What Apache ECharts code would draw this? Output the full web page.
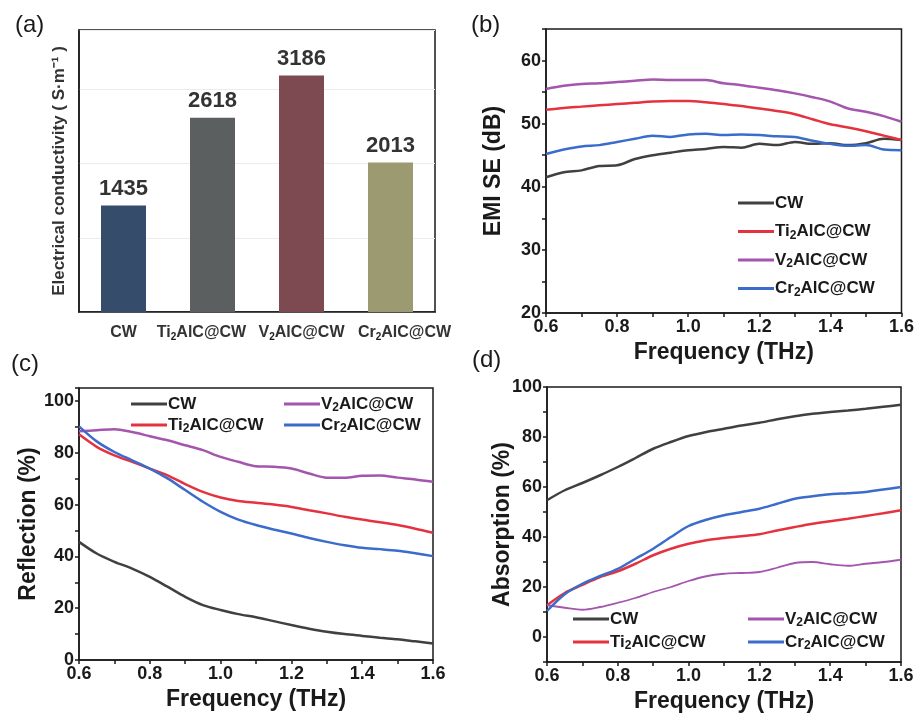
<!DOCTYPE html>
<html>
<head>
<meta charset="utf-8">
<script src="https://cdn.jsdelivr.net/npm/echarts@6/dist/echarts.min.js"></script>
<style>
  html, body { margin: 0; padding: 0; background: #fff; }
  #main { width: 917px; height: 716px; }
</style>
</head>
<body>
<div id="main"></div>
<script>
var chart = echarts.init(document.getElementById('main'));

var samples = ['CW', 'Ti₂AlC@CW', 'V₂AlC@CW', 'Cr₂AlC@CW'];
var conductivity = [1435, 2618, 3186, 2013];
var bar_colors = ['#354c6b', '#5b5f60', '#7d4a52', '#9c9a70'];
var line_colors = ['#404040', '#e5323f', '#a455ad', '#3b6ccb'];

var freq = [0.6, 0.65, 0.7, 0.75, 0.8, 0.85, 0.9, 0.95, 1.0, 1.05, 1.1,
            1.15, 1.2, 1.25, 1.3, 1.35, 1.4, 1.45, 1.5, 1.55, 1.6];

// (b) EMI SE (dB)
var emi_cw = [41.5, 42.3, 42.6, 43.3, 43.4, 44.4, 45.0, 45.4, 45.8, 46.0, 46.3, 46.2, 46.8, 46.6, 47.1, 46.8, 46.9, 46.6, 46.9, 47.6, 47.4];
var emi_ti = [52.2, 52.5, 52.7, 52.9, 53.1, 53.3, 53.5, 53.6, 53.6, 53.4, 53.1, 52.8, 52.4, 52.0, 51.5, 50.7, 49.9, 49.4, 48.8, 48.1, 47.4];
var emi_v = [55.5, 56.0, 56.3, 56.4, 56.6, 56.8, 57.0, 56.9, 56.9, 56.9, 56.4, 56.1, 55.7, 55.3, 54.8, 54.2, 53.5, 52.4, 51.9, 51.2, 50.3];
var emi_cr = [45.2, 45.9, 46.4, 46.6, 47.1, 47.6, 48.1, 47.9, 48.3, 48.4, 48.2, 48.3, 48.2, 48.0, 47.9, 47.3, 46.8, 46.5, 46.6, 45.9, 45.8];

// (c) Reflection (%)
var ref_cw = [45.6, 41.1, 37.9, 35.3, 32.1, 28.3, 24.4, 21.2, 19.3, 17.7, 16.5, 15.0, 13.5, 12.1, 10.9, 10.0, 9.3, 8.6, 8.0, 7.2, 6.4];
var ref_ti = [87.1, 82.3, 79.0, 76.5, 73.9, 71.3, 67.9, 64.9, 62.7, 61.4, 60.7, 60.0, 59.1, 57.8, 56.6, 55.3, 54.2, 53.2, 52.1, 50.7, 49.1];
var ref_v = [88.3, 88.7, 89.1, 88.0, 86.4, 84.8, 82.9, 81.0, 78.4, 76.5, 74.8, 74.6, 73.9, 72.0, 70.4, 70.4, 71.1, 71.2, 70.4, 69.7, 68.8];
var ref_cr = [90.2, 84.4, 80.3, 77.1, 73.9, 70.1, 65.6, 61.1, 57.2, 54.2, 52.1, 50.4, 48.8, 47.1, 45.6, 44.3, 43.3, 42.8, 42.2, 41.2, 40.1];

// (d) Absorption (%)
var abs_cw = [54.7, 58.7, 61.6, 64.7, 68.0, 71.6, 75.3, 78.0, 80.4, 82.0, 83.3, 84.6, 85.7, 87.1, 88.3, 89.3, 90.0, 90.6, 91.3, 92.1, 92.9];
var abs_ti = [12.7, 17.6, 20.9, 24.0, 26.3, 29.3, 32.7, 35.3, 37.3, 38.7, 39.6, 40.3, 41.1, 42.6, 44.0, 45.3, 46.3, 47.3, 48.4, 49.5, 50.7];
var abs_v = [12.7, 11.7, 10.9, 12.0, 13.7, 15.6, 18.0, 20.0, 22.4, 24.3, 25.3, 25.6, 26.0, 27.7, 29.6, 30.0, 29.1, 28.5, 29.3, 30.0, 30.9];
var abs_cr = [10.4, 17.1, 21.3, 24.4, 27.3, 31.3, 35.3, 40.0, 44.4, 46.9, 48.7, 50.0, 51.3, 53.3, 55.3, 56.3, 57.1, 57.5, 58.0, 59.0, 60.0];

var font = 'Liberation Sans, Arial, sans-serif';
var ink = '#1a1a1a';

// "Ti₂AlC@CW" -> rich text with a lowered subscript
function subText(name) {
    return name.replace('₂', '{s|2}');
}
function subRich(size) {
    return {
        s: { fontFamily: font, fontWeight: 'bold', fontSize: size, lineHeight: size,
             padding: [8, 0, 0, 0], verticalAlign: 'bottom', color: ink }
    };
}

function pairs(ys) {
    return freq.map(function (f, i) { return [f, ys[i]]; });
}

function freqAxis(idx) {
    return {
        type: 'value', gridIndex: idx, min: 0.6, max: 1.6, interval: 0.1,
        name: 'Frequency (THz)', nameLocation: 'middle', nameGap: 28, nameMoveOverlap: false,
        nameTextStyle: { fontFamily: font, fontWeight: 'bold', fontSize: 23, color: ink },
        axisLine: { show: true, onZero: false, lineStyle: { color: ink, width: 1.5 } },
        axisTick: { show: true, length: 4, lineStyle: { color: ink, width: 1.5 } },
        axisLabel: {
            fontFamily: font, fontWeight: 'bold', fontSize: 18, color: ink, margin: 5,
            formatter: function (v) { return Math.round(v * 10) % 2 === 0 ? v.toFixed(1) : ''; }
        },
        splitLine: { show: false }
    };
}

function valAxis(idx, name, min, max, step, gap) {
    return {
        type: 'value', gridIndex: idx, min: min, max: max, interval: step / 2,
        name: name, nameLocation: 'middle', nameGap: gap, nameMoveOverlap: false,
        nameTextStyle: { fontFamily: font, fontWeight: 'bold', fontSize: 23, color: ink },
        axisLine: { show: true, onZero: false, lineStyle: { color: ink, width: 1.5 } },
        axisTick: { show: true, length: 4, lineStyle: { color: ink, width: 1.5 } },
        axisLabel: {
            fontFamily: font, fontWeight: 'bold', fontSize: 18, color: ink, margin: 5,
            formatter: function (v) {
                var r = Math.round(v);
                return (r % step === 0 && r >= min && r <= 100) ? String(r) : '';
            }
        },
        splitLine: { show: false }
    };
}

function lineSeries(name, idx, ys, color, width) {
    return {
        type: 'line', name: name, xAxisIndex: idx, yAxisIndex: idx,
        data: pairs(ys), showSymbol: false, smooth: 0.3,
        lineStyle: { color: color, width: width || 2.5 },
        itemStyle: { color: color }
    };
}

function legend(names, left, top, gap) {
    return {
        data: names, left: left, top: top, orient: 'vertical',
        icon: 'rect', itemWidth: 36, itemHeight: 3, itemGap: gap,
        formatter: subText,
        textStyle: { fontFamily: font, fontWeight: 'bold', fontSize: 17, lineHeight: 20, color: ink,
                     padding: [0, 0, 0, -4], rich: subRich(12) },
        selectedMode: false
    };
}

// small horizontal nudges of the bar-chart category labels, as in the figure
var label_pad = [[0, 0, 0, 0], [0, 22, 0, 0], [0, 0, 0, 0], [0, 0, 0, 28]];

var series = [{
    type: 'bar', xAxisIndex: 0, yAxisIndex: 0, barWidth: 45,
    data: conductivity.map(function (v, i) { return { value: v, itemStyle: { color: bar_colors[i] } }; }),
    label: { show: true, position: 'top', distance: 6, fontFamily: font, fontWeight: 'bold', fontSize: 22, color: '#333' }
}];
var sets = [[emi_cw, emi_ti, emi_v, emi_cr], [ref_cw, ref_ti, ref_v, ref_cr], [abs_cw, abs_ti, abs_v, abs_cr]];
sets.forEach(function (set, k) {
    set.forEach(function (ys, i) {
        series.push(lineSeries(samples[i], k + 1, ys, line_colors[i], (k === 2 && i === 2) ? 1.8 : 2.5));
    });
});

var option = {
    backgroundColor: '#fff',
    animation: false,
    title: [
        { text: '(a)', left: 10, top: 8 },
        { text: '(b)', left: 466, top: 8 },
        { text: '(c)', left: 6, top: 347 },
        { text: '(d)', left: 467, top: 343 }
    ].map(function (t) {
        t.textStyle = { fontFamily: font, fontWeight: 'normal', fontSize: 24, color: ink };
        return t;
    }),
    grid: [
        { left: 79, top: 30, width: 356, height: 282 },
        { left: 546, top: 29, width: 357, height: 284 },
        { left: 79, top: 388, width: 354, height: 272 },
        { left: 547, top: 387, width: 354, height: 275 }
    ].map(function (g) {
        g.show = true; g.borderColor = ink; g.borderWidth = 1.5; g.containLabel = false;
        return g;
    }),
    legend: [
        legend(samples, 733, 188, 8.5),
        legend([samples[0], samples[1]], 126, 389, 1),
        legend([samples[2], samples[3]], 279, 389, 1),
        legend([samples[0], samples[1]], 568, 604, 3),
        legend([samples[2], samples[3]], 743, 604, 3)
    ],
    xAxis: [
        {
            type: 'category', gridIndex: 0,
            data: samples.map(function (s, i) { return { value: s, textStyle: { padding: label_pad[i] } }; }),
            axisLine: { show: true, lineStyle: { color: ink, width: 1.5 } },
            axisTick: { show: false },
            axisLabel: { fontFamily: font, fontWeight: 'bold', fontSize: 16, lineHeight: 18, color: '#333',
                         margin: 12, interval: 0, formatter: subText, rich: subRich(10) }
        },
        freqAxis(1), freqAxis(2), freqAxis(3)
    ],
    yAxis: [
        {
            type: 'value', gridIndex: 0, min: 0, max: 3800, interval: 1000,
            name: 'Electrical conductivity ( S·m⁻¹ )', nameLocation: 'middle', nameGap: 11, nameMoveOverlap: false,
            nameTextStyle: { fontFamily: font, fontWeight: 'bold', fontSize: 17, color: '#333' },
            axisLine: { show: true, lineStyle: { color: ink, width: 1.5 } },
            axisTick: { show: false },
            axisLabel: { show: false },
            splitLine: { show: true, lineStyle: { color: '#ececec', width: 1 } }
        },
        valAxis(1, 'EMI SE (dB)', 20, 65, 10, 41),
        valAxis(2, 'Reflection (%)', 0, 105, 20, 39),
        valAxis(3, 'Absorption (%)', -10, 100, 20, 33)
    ],
    series: series
};

chart.setOption(option);
</script>
</body>
</html>
